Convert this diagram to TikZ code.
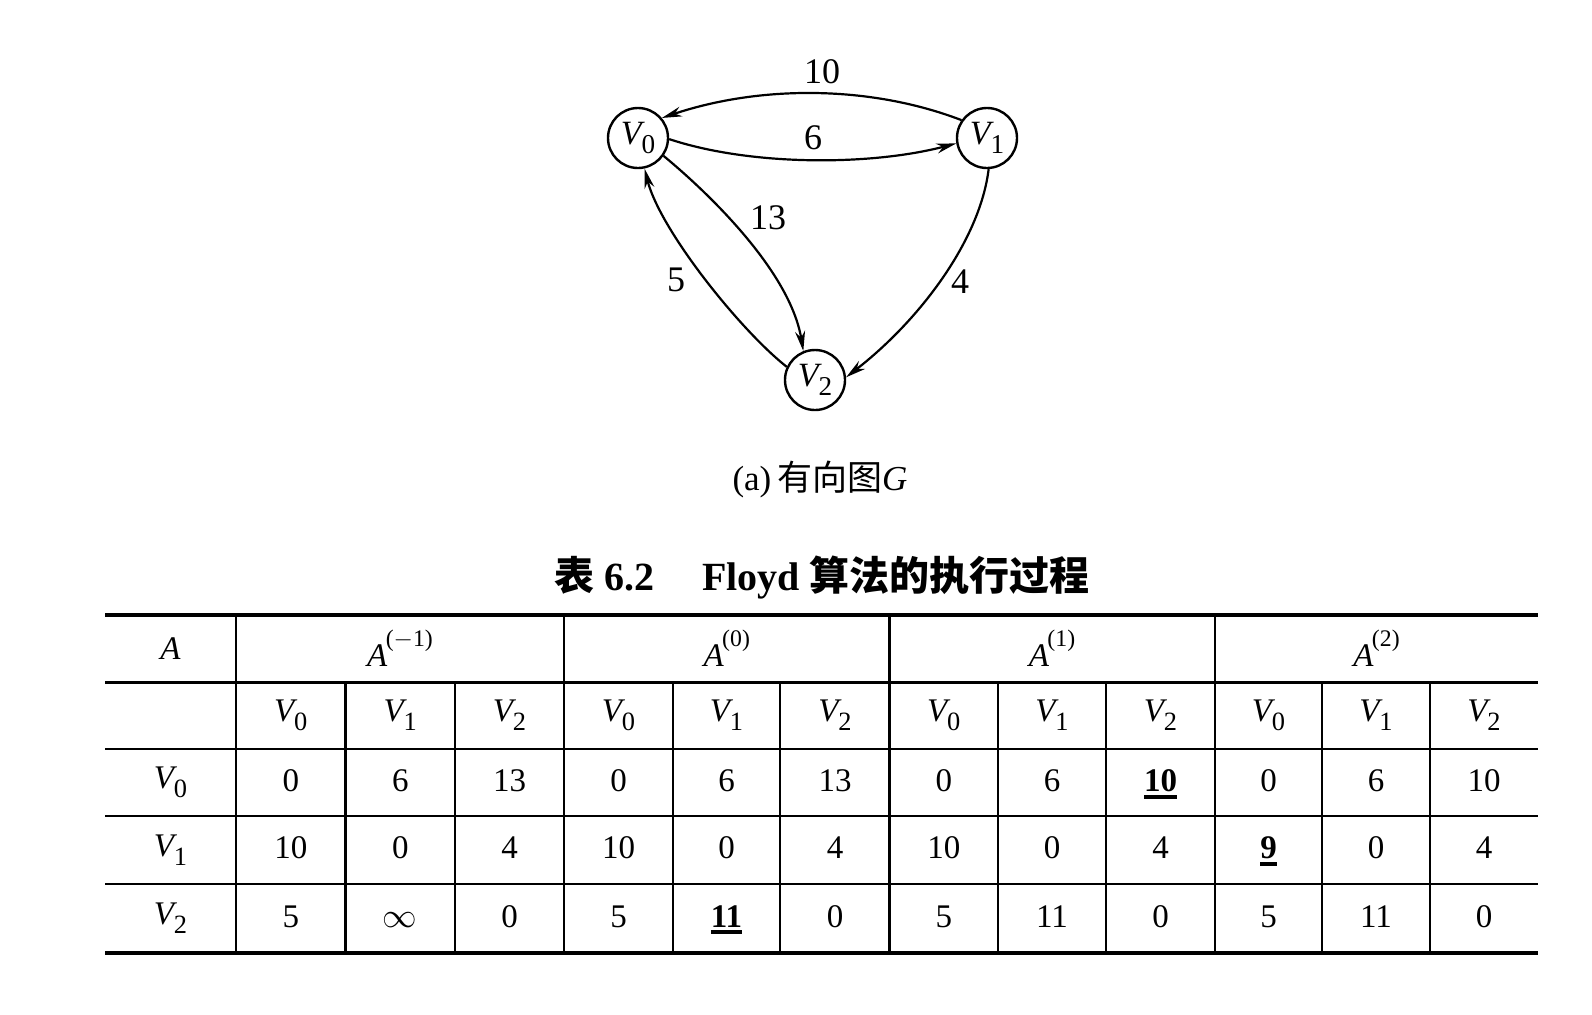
\documentclass[tikz,border=0pt]{standalone}
\usepackage{fontspec}
\usepackage{graphicx}
\setmainfont{Liberation Serif}
\newfontfamily\cjk{Noto Sans CJK SC}
\usetikzlibrary{arrows.meta}
\newcommand\Vsub[1]{\textit{V}\kern-0.1em\raisebox{-0.28em}{\scalebox{0.8}{#1}}}
\newcommand\Asup[1]{\textit{A}\kern-0.05em\raisebox{0.6em}{\scalebox{0.72}{(#1)}}}
\newcommand\bul[1]{\setbox0\hbox{\bfseries #1}\vtop{\copy0\kern1.6pt\hrule width\wd0 height 2pt}}
\begin{document}
\begin{tikzpicture}[x=0.5pt,y=-0.5pt,
  vert/.style={circle,draw,line width=1.2pt,minimum size=30pt,inner sep=0pt,font=\fontsize{17}{19}\selectfont},
  edge/.style={line width=1.1pt,-{Stealth[length=10pt,width=5pt]}},
  elab/.style={inner sep=0pt,font=\fontsize{18}{20}\selectfont},
  cell/.style={inner sep=0pt,font=\fontsize{16.5}{19}\selectfont},
  thickrule/.style={line width=2pt},
  thinrule/.style={line width=1.3pt}]
\fill[white] (0,0) rectangle (1592,1014);
\useasboundingbox (0,0) rectangle (1592,1014);
% ---------- graph ----------
\node[vert] (V0) at (638,138) {\Vsub{0}};
\node[vert] (V1) at (987,138) {\Vsub{1}};
\node[vert] (V2) at (815,380) {\Vsub{2}};
\draw[edge] (V1.145) .. controls (870,85) and (760,85) .. (V0.40);
\draw[edge] (V0.-2) .. controls (750,166) and (870,166) .. (V1.190);
\draw[edge] (V0.-35) .. controls (705,190) and (790,270) .. (V2.112);
\draw[edge] (V2.155) .. controls (740,330) and (660,230) .. (V0.-78);
\draw[edge] (V1.-87) .. controls (980,240) and (920,320) .. (V2.5);
\node[elab] (l10) at (822,72) {10};
\node[elab] (l6) at (813,138) {6};
\node[elab] (l13) at (768,218) {13};
\node[elab] (l5) at (676,280) {5};
\node[elab] (l4) at (960,282) {4};
% ---------- captions ----------
\node[inner sep=0pt,font=\fontsize{17.5}{20}\selectfont] (capa) at (820,479) {(a)\,{\cjk 有向图}\textit{G}};
\node[inner sep=0pt,font=\fontsize{20}{22}\selectfont\bfseries] (capt) at (822,578)
  {{\cjk 表} 6.2\hspace{1.2em}Floyd {\cjk 算法的执行过程}};
% ---------- table rules ----------
\draw[thickrule] (105,615) -- (1538,615);
\draw[thickrule] (105,953) -- (1538,953);
\foreach \y in {682.5,749,816,884} \draw[thinrule] (105,\y) -- (1538,\y);
\foreach \x in {236,564,889.5,1215} \draw[thinrule] (\x,615) -- (\x,953);
\foreach \x in {345.5,455,673,780,998,1106,1322,1430} \draw[thinrule] (\x,682.5) -- (\x,953);
% ---------- table text ----------
\node[cell] (hA) at (170.5,648.5) {\textit{A}};
\node[cell] (hg0) at (400,648.5) {\Asup{$-$1}};
\node[cell] (hg1) at (726.75,648.5) {\Asup{0}};
\node[cell] (hg2) at (1052,648.5) {\Asup{1}};
\node[cell] (hg3) at (1376.5,648.5) {\Asup{2}};
\node[cell] (r0) at (170.5,782.5) {\Vsub{0}};
\node[cell] (r1) at (170.5,850) {\Vsub{1}};
\node[cell] (r2) at (170.5,918.5) {\Vsub{2}};
\foreach \x/\t [count=\i] in {290.75/0,400.25/1,509.5/2,618.5/0,726.5/1,835/2,943.75/0,1052/1,1160.5/2,1268.5/0,1376/1,1484/2}
  \node[cell] (h\i) at (\x,715.5) {\Vsub{\t}};
\foreach \x/\t [count=\i] in {290.75/0,400.25/6,509.5/13,618.5/0,726.5/6,835/13,943.75/0,1052/6,1160.5/{\bul{10}},1268.5/0,1376/6,1484/10}
  \node[cell,anchor=base] (a\i) at (\x,791) {\t};
\foreach \x/\t [count=\i] in {290.75/10,400.25/0,509.5/4,618.5/10,726.5/0,835/4,943.75/10,1052/0,1160.5/4,1268.5/{\bul{9}},1376/0,1484/4}
  \node[cell,anchor=base] (b\i) at (\x,858.5) {\t};
\foreach \x/\t [count=\i] in {290.75/5,400.25/{$\infty$},509.5/0,618.5/5,726.5/{\bul{11}},835/0,943.75/5,1052/11,1160.5/0,1268.5/5,1376/11,1484/0}
  \node[cell,anchor=base] (c\i) at (\x,927) {\t};
\end{tikzpicture}
\end{document}
